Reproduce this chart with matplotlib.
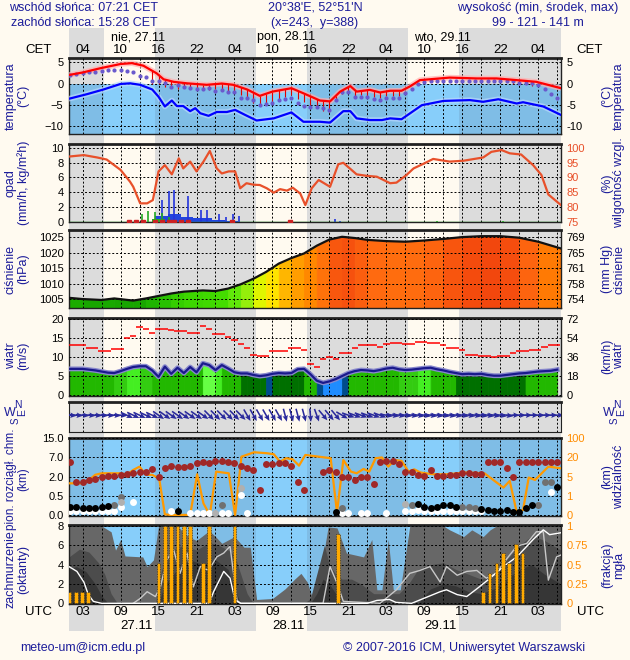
import numpy as np
import matplotlib
matplotlib.use('Agg')
import matplotlib.pyplot as plt
from matplotlib.colors import LinearSegmentedColormap

plt.rcParams['font.family'] = ['Liberation Sans', 'DejaVu Sans']

# time axis in hours since 27.11 00 UTC
X0, X1 = 0.85, 78.6
sunrise = [6.35, 30.35, 54.35]
sunset = [14.47, 38.47, 62.47]
hours = np.arange(1, 79)

# temperature (C)
tmax_t = [0.8, 3, 5.8, 9, 10.8, 12.6, 14.7, 15.8, 17.4, 19.5, 22.6, 25, 26.8, 29, 31, 33, 36, 37.9,
          40.5, 42.1, 43.7, 45.3, 46.3, 48.4, 50, 51.6, 53.4, 54.7, 56.3, 61, 65.3, 68.4, 71.6, 74.7, 78.6]
tmax = [2.0, 2.6, 3.6, 4.6, 4.8, 4.2, 2.4, 1.0, 0.4, 0.05, -0.3, 0.0, -0.3, -1.4, -2.9, -1.9, -1.1, -2.3,
        -4.0, -4.2, -1.9, -0.6, -1.9, -1.5, -2.1, -1.7, -1.7, -0.7, 0.8, 1.4, 1.2, 1.2, 0.8, 0.4, -1.1]
tmin_t = [0.8, 3.7, 6.3, 9, 10.5, 12.1, 14, 15, 16, 17.1, 17.9, 18.9, 20, 20.8, 21.6, 22.9, 24.2, 25.8,
          27.1, 28.7, 30.5, 33.2, 36, 37.9, 40.5, 42.1, 44.2, 45.3, 46.3, 48.4, 50.3, 51.6, 53.4, 56.6,
          60, 64.2, 66.3, 68.7, 71.6, 72.6, 75.8, 78.6]
tmin = [-3.6, -2.5, -1.4, -0.1, 0.05, -0.3, -1.4, -3.1, -5.4, -4.0, -5.3, -5.3, -6.5, -5.8, -7.0, -7.6,
        -6.7, -6.7, -6.2, -7.4, -8.7, -8.2, -6.8, -9.0, -9.0, -9.2, -6.5, -6.5, -8.2, -8.6, -8.6, -8.2,
        -8.4, -5.1, -4.1, -3.9, -4.3, -3.7, -4.7, -4.4, -5.4, -7.4]
tdew = [2.0, 2.2, 2.4, 2.6, 2.7, 2.9, 3.1, 3.2, 3.2, 3.0, 2.6, 1.8, 1.5, 0.7, 0.6, 0.2, -0.9, -0.3,
        -0.7, -1.0, -1.2, -1.4, -1.1, -1.7, -1.5, -1.9, -2.1, -3.5, -3.3, -3.9, -5.1, -4.9, -4.5, -3.9,
        -3.6, -3.3, -4.5, -5.4, -5.6, -5.6, -5.8, -6.2, -3.9, -2.1, -1.9, -3.1, -3.1, -3.2, -3.7, -3.9,
        -3.5, -3.5, -3.5, -2.3, -1.3, -0.2, 0.4, 0.5, 0.5, 0.5, 0.6, 0.5, 0.5, 0.5, 0.5, 0.6, 0.5, 0.6,
        0.5, 0.5, 0.5, 0.2, 0.2, 0.1, -0.3, -1.3, -2.5, -3.5]
spread_t = [14, 15, 16, 17, 18, 19, 20, 21, 22, 23, 24, 25, 26, 27, 28, 29, 30, 31, 32, 33, 34, 35, 36,
            37, 38, 39, 40, 41, 42, 43, 44, 45, 46, 47, 48, 49, 50, 51, 52, 53, 71, 72, 73, 74]
spread_lo = [-0.2, 0.0, -0.8, -1.0, -1.2, -1.0, -1.3, -1.3, -1.4, -1.5, -1.3, -1.6, -2.0, -2.2, -2.8,
             -3.3, -4.5, -5.0, -4.8, -4.3, -3.8, -3.2, -2.6, -3.6, -4.4, -5.0, -5.6, -6.5, -6.6, -4.0,
             -2.5, -2.0, -3.0, -2.8, -3.0, -3.2, -3.3, -3.0, -3.0, -3.0, -0.1, -0.2, -0.2, -0.5]

# precipitation (mm/h) and relative humidity (%)
rh_t = [0.8, 3.2, 5.3, 6.8, 9, 10.5, 11, 12.1, 13.2, 14.1, 15, 16, 17.1, 18.2, 18.9, 20, 21, 22.1, 23.1,
        24.2, 25, 26.1, 27.1, 27.9, 28.9, 30, 31, 32.1, 33.2, 34.2, 35.3, 36.2, 37.4, 38.2, 39.2, 40.3,
        42.1, 43.4, 44.2, 46.3, 47.9, 49.5, 51.6, 52.6, 54.2, 55.3, 56.8, 58.4, 61, 63.2, 66.3, 67.6,
        69.2, 70.5, 72.3, 74.2, 75.5, 76.6, 78.6]
rh = [97, 97.5, 96.7, 96, 92.5, 88.5, 86.8, 81.2, 81.2, 82.3, 92, 94.1, 91, 96.4, 93, 95.3, 92, 95.3,
      98.9, 93, 91.3, 92, 92, 86.3, 88, 87.5, 87.4, 86.3, 84.8, 86, 85.5, 86.5, 84.5, 80.6, 86.3, 89.1,
      86.8, 94.4, 94.9, 91, 90.5, 90.2, 88, 88.2, 90.8, 93, 94.5, 96.2, 95.3, 95.6, 96.7, 98.6, 99.2,
      98.1, 97.7, 94.1, 90.8, 84.2, 80.6]
conv_t = [15.5, 16.6, 17.5, 19.6, 21.7, 22.6, 24.6, 25.6, 26.7, 27.7, 42.9, 43.7]
conv = [3.0, 4.1, 4.3, 3.5, 1.6, 1.6, 1.0, 0.6, 1.0, 0.8, 0.4, 0.15]
strat_t = [15, 16, 17, 18, 19, 20, 21, 22, 23, 24, 25, 26, 27]
strat = [0.75, 0.75, 1.0, 1.0, 0.7, 0.7, 0.45, 0.45, 0.45, 0.2, 0.2, 0.15, 0.15]
rain_t = [12.4, 13.4, 14.5, 15.5, 16.6, 59, 69.5]
rain = [1.0, 1.5, 1.3, 1.2, 0.6, 0.1, 0.1]
snow_t = [10.4, 11.5, 12.5, 14.5, 15.5, 16.6, 17.5, 18.6, 19.6, 26.6, 35.7]

# pressure (hPa)
p_t = [0.85, 3, 6, 8, 11, 13, 15, 17, 19, 22, 24, 26, 28, 30, 32, 34, 36, 38, 40, 42, 44, 46, 48, 51,
       54, 57, 60, 63, 66, 69, 72, 75, 78.6]
p = [1005.4, 1005.0, 1004.7, 1005.2, 1004.5, 1005.2, 1006.0, 1006.8, 1007.4, 1007.8, 1007.6, 1008.4,
     1009.8, 1011.6, 1013.8, 1016.5, 1018.3, 1019.8, 1022.3, 1024.3, 1025.2, 1024.8, 1024.2, 1023.8,
     1023.6, 1024.0, 1024.5, 1025.1, 1025.4, 1025.4, 1024.9, 1023.6, 1021.4]

# wind (m/s), hourly
wind = [6.9, 6.9, 6.9, 6.7, 6.5, 6.2, 5.9, 5.8, 6.3, 6.9, 7.4, 7.6, 7.6, 6.5, 4.8, 7.5, 5.6, 7.2, 5.8,
        7.4, 6.0, 8.4, 7.9, 6.6, 7.9, 7.0, 6.0, 5.7, 5.7, 5.3, 5.0, 5.2, 5.6, 5.8, 5.7, 5.8, 6.8, 6.9,
        5.5, 3.8, 3.2, 3.6, 4.2, 5.0, 5.8, 6.3, 6.6, 6.5, 6.3, 6.6, 7.0, 7.2, 6.8, 6.6, 6.7, 6.9, 7.1,
        7.2, 6.8, 6.5, 6.1, 5.8, 5.5, 5.6, 5.5, 5.6, 5.3, 5.1, 5.1, 5.3, 5.5, 5.7, 5.8, 6.0, 6.2, 6.3,
        6.4, 6.7]
gust = [13.2, 13.2, 13.2, 12.5, 12.5, 11.6, 11.6, 12.2, 12.2, 15.0, 15.7, 17.9, 17.4, 16.3, 17.4, 17.4,
        17.2, 17.0, 17.0, 16.5, 16.5, 18.1, 17.4, 16.1, 16.1, 15.4, 14.4, 13.5, 12.3, 10.7, 10.3, 10.3,
        11.7, 11.7, 11.7, 12.3, 12.3, 12.0, 8.1, 7.4, 9.4, 10.1, 9.5, 11.2, 11.2, 12.3, 13.2, 13.2, 13.2,
        12.6, 13.5, 13.8, 13.8, 13.4, 13.4, 13.9, 13.9, 13.7, 13.7, 13.2, 12.5, 12.5, 11.8, 10.6, 10.6,
        10.4, 10.4, 10.0, 10.3, 10.3, 11.0, 11.5, 11.5, 11.8, 11.8, 12.8, 13.2, 13.2]
wind_class = list('gggggggllbbllggggggggBBbgggddddnddddd' 'ggnuuungggggggglllbbggggddddddddddd' 'ggggg')
wind_dir = [275] * 9 + [295] * 5 + [305] * 8 + [315] * 6 + [330] * 6 + [345] * 4 + [355, 340] + \
           [320] * 3 + [300] + [290] * 6 + [280] * 20 + [270] * 8

# cloud base heights (km) and visibility (km)
high_km = [5.9, 1.55, 1.55, 1.75, 1.85, 2.0, 2.15, 2.15, 2.45, 2.6, 2.85, 3.3, 3.3, 4.0, 2.0, 4.35, 4.85,
           4.6, 4.6, 4.85, 5.5, 5.75, 5.5, 6.1, 6.1, 5.75, 5.5, 4.85, 4.35, 3.75, 0.95, 5.2, 5.2, 5.5, 5.5,
           4.85, 1.55, 0.95, np.nan, np.nan, 3.3, 3.75, 3.15, 2.0, 2.0, 1.75, 2.0, 2.0, 1.4, 5.9, 6.1, 6.1,
           5.2, 3.3, 3.15, 2.45, 2.15, 3.75, 2.15, 2.15, 2.45, 2.45, 2.85, 2.85, 2.6, 2.6, 5.9, 5.9, 5.9,
           4.35, 2.0, 5.9, 5.9, 5.9, 5.9, 5.9, 5.9, 5.9]
low_t = [1, 2, 3, 4, 5, 6, 7, 8, 9, 11, 17, 20, 21, 22, 23, 25, 26, 28, 29, 44, 45, 47, 48, 51, 54, 55,
         56, 57, 58, 59, 60, 61, 62, 63, 64, 65, 66, 77,
         8, 9, 9, 24, 25, 28, 44, 54, 55, 63, 64, 65, 75, 76, 77,
         1, 2, 3, 4, 5, 6, 7, 18, 43, 56, 57, 58, 59, 60, 61, 62, 66, 67, 68, 69, 70, 71, 72, 73, 74, 78]
low_km = [0.1, 0.1, 0.1, 0.1, 0.1, 0.1, 0.1, 0.1, 0.2, 0.33, 0.09, 0.05, 0.05, 0.05, 0.05, 0.05, 0.05,
          0.56, 0.05, 0.05, 0.05, 0.05, 0.05, 0.05, 0.1, 0.1, 0.12, 0.1, 0.1, 0.1, 0.1, 0.1, 0.1, 0.1, 0.1,
          0.1, 0.1, 0.8,
          0.25, 0.48, 0.35, 0.05, 0.26, 1.1, 0.18, 0.28, 0.25, 0.21, 0.21, 0.19, 0.26, 1.6, 1.6,
          0.21, 0.2, 0.18, 0.18, 0.19, 0.21, 0.24, 0.09, 0.07, 0.28, 0.21, 0.19, 0.21, 0.25, 0.26, 0.21,
          0.16, 0.13, 0.1, 0.1, 0.13, 0.07, 0.07, 0.18, 0.25, 1.15]
low_c = ['w'] * 38 + ['g', 'g', 'l', 'l', 'g', 'l', 'g', 'l', 'g', 'g', 'g', 'g', 'g', 'g', 'g'] + ['k'] * 26
vis_t = [0.85, 3, 4, 5, 6, 9, 10, 11, 12, 13, 14, 15.1, 16, 17, 20, 21.1, 22.1, 23.1, 24.1, 26.1, 27.1,
         28.1, 30.1, 32.1, 33.2, 34.2, 35.2, 36.2, 37.2, 38.2, 40.3, 42.2, 43.2, 44.2, 45.4, 46.3, 47.4,
         48.3, 49.3, 50.3, 51.3, 52.3, 53.4, 54.5, 55.4, 56.4, 58.4, 60.5, 63.5, 66.5, 69.5, 70.5, 71.6,
         72.6, 73.5, 74.5, 76.6, 78.6]
vis = [3.6, 3.6, 4.3, 6.4, 7.6, 7.6, 6.4, 10.2, 12.8, 6.4, 6.4, 4.6, 0.03, 0.0, 0.0, 6.8, 0.6, 0.0, 8.9,
       7.6, 0.0, 23.2, 41.6, 37.6, 33.6, 16.7, 19.4, 18.5, 13.6, 30.4, 23.2, 19.4, 0.14, 18.0, 8.9, 7.6,
       11.0, 8.9, 19.4, 20.0, 12.8, 18.0, 17.3, 8.9, 10.7, 8.2, 6.8, 6.8, 8.2, 7.6, 2.7, 4.1, 0.14, 0.26,
       4.8, 4.3, 12.8, 11.5]

# cloud cover (oktas) and fog fraction
cl_total_t = [0.85, 6, 7.5, 8.2, 9, 9.7, 12.5, 13.2, 14.2, 15, 18, 19, 20, 21, 22, 23, 24, 25, 27, 28.5,
              29.5, 30.5, 33, 35, 36.5, 37.5, 38.5, 39.5, 41, 41.8, 43.2, 44.7, 47.4, 48.7, 49.5, 50.3,
              51.3, 52.1, 53.2, 54.7, 60, 61, 63.2, 64.5, 66.3, 67.4, 68.4, 78.6]
cl_total = [8, 8, 7.4, 5.5, 6.6, 4.9, 4.8, 3.8, 4.5, 8, 8, 7.3, 6.8, 6.5, 7.0, 7.5, 6.9, 6.2, 6.9, 5.8,
            5.8, 0.4, 0.5, 1.5, 2.5, 3.1, 2.2, 0.2, 4.8, 7.9, 7.8, 5.2, 4.8, 6.6, 1.4, 1.4, 6.6, 1.4,
            1.4, 8, 8, 7.6, 6.9, 7.6, 6.9, 7.6, 8, 8]
cl_mid_t = [0.85, 2.5, 4, 5.5, 6.5, 7.5, 8.5, 14.5, 15.5, 17, 19, 21, 23, 24.5, 26, 27, 28, 29, 30, 38,
            39, 40, 41.2, 42, 43, 44, 45.5, 47, 49, 53, 54.5, 56, 58, 60, 62, 64, 66, 68, 70, 72, 74, 76,
            78.6]
cl_mid = [4.8, 5.6, 5.3, 4.2, 3.0, 1.0, 0, 0, 3.5, 5.5, 6.0, 5.5, 6.3, 6.0, 5.5, 5.0, 3.0, 1.0, 0, 0,
          0.5, 3.0, 6.0, 4.0, 3.0, 2.5, 2.5, 2.0, 1.0, 1.0, 2.0, 3.5, 4.0, 4.2, 3.5, 3.0, 2.5, 3.0, 4.5,
          6.0, 7.0, 6.5, 5.5]
cl_low_t = [0.85, 2, 3.5, 5, 6, 7, 15, 16, 18, 20, 22, 24, 26, 27, 28, 39, 40, 41, 42, 43, 44, 56, 58,
            60, 62, 64, 66, 68, 70, 72, 74, 76, 78.6]
cl_low = [3.5, 3.8, 3.3, 2.0, 0.8, 0, 0, 2.0, 3.5, 4.5, 4.0, 4.5, 3.5, 1.5, 0, 0, 1.0, 2.5, 2.0, 1.0, 0,
          0, 1.5, 2.0, 1.8, 1.2, 1.0, 1.5, 2.5, 3.5, 4.0, 3.0, 2.0]
fog_t = [0.9, 2, 2.9, 3.9, 15, 16, 17, 18, 19, 20, 22, 23, 27, 43.3, 66.3, 67.3, 68.4, 69.4, 70.4,
         71.5, 72.5]
fog = [0.15, 0.15, 0.15, 0.15, 0.52, 1, 1, 1, 1, 1, 0.52, 1, 1, 0.9, 0.15, 0.39, 0.52, 0.65, 0.52,
       0.77, 0.65]
wl1_t = [0.85, 2.1, 3.2, 3.9, 4.7, 6, 20, 23, 23.7, 25.3, 26.3, 27.1, 28, 48, 49.5, 51.5, 52.5, 55,
         59.5, 60.5, 62.2, 63.7, 65.3, 67.4, 69.5, 71.6, 73.2, 74.2, 75.8, 76.8, 78.6]
wl1 = [3.8, 3.3, 2.2, 0.9, 0.2, 0, 0, 0, 1.2, 3.3, 2.6, 0.3, 0, 0, 0.3, 0.4, 0.1, 0, 1.2, 1.4, 0.9,
       0.7, 1.5, 2.6, 3.8, 4.8, 5.9, 6.6, 7.6, 7.1, 7.3]
wl2_t = [11, 12.1, 13.2, 14.5, 15.3, 16.3, 17.4, 18.4, 19.5, 20.5, 21.6, 22.9, 24.2, 25.3, 26.3, 27.4,
         28, 41, 42.1, 43.2, 44.2, 50, 52.6, 54.7, 56.3, 57.9, 59.5, 60.5, 62.2, 63.7, 65.3, 66.8, 68.4,
         69.9, 71.6, 73.2, 74.7, 75.8, 76.6, 77.9, 78.6]
wl2 = [0, 0.5, 1.2, 0.7, 1.7, 4.5, 5.5, 3.1, 5.2, 1.7, 3.8, 3.4, 4.8, 5.2, 5.9, 0.3, 0, 0, 3.8, 2.1,
       0.2, 0, 1.4, 3.1, 3.4, 3.8, 2.2, 3.8, 2.9, 3.3, 3.4, 2.6, 3.1, 4.5, 5.9, 6.2, 7.4, 7.4, 2.4, 4.8,
       5.0]

W, H = 630, 660
BG = '#fffaf0'
NAVY = '#1c1c9a'
NIGHT = '#dcdcdc'
SKY_DAY = '#87cefa'
SKY_NIGHT = '#7fbde6'
ORANGE = '#ff9900'

nights = [(X0, sunrise[0]), (sunset[0], sunrise[1]), (sunset[1], sunrise[2]), (sunset[2], X1)]
days = list(zip(sunrise, sunset))
grid_x = np.arange(3, 79, 3)

fig = plt.figure(figsize=(W / 100, H / 100), dpi=100)
fig.patch.set_facecolor(BG)


def add_ax(top, bottom, left=69, right=561):
    return fig.add_axes([left / W, 1 - bottom / H, (right - left) / W, (bottom - top) / H])


def ftext(x, y, s, **kw):
    kw.setdefault('color', NAVY)
    kw.setdefault('fontsize', 9)
    kw.setdefault('va', 'center')
    fig.text(x / W, 1 - y / H, s, **kw)


def hx(h):
    return 69 + (h - X0) / (X1 - X0) * 492


def panel(top, bottom, ylim, yticks, ylabels=None):
    ax = add_ax(top, bottom)
    ax.set_facecolor('none')
    ax.set_xlim(X0, X1)
    ax.set_ylim(*ylim)
    ax.set_xticks([])
    ax.set_yticks(yticks)
    if ylabels is not None:
        ax.set_yticklabels(ylabels)
    ax.tick_params(axis='y', length=0, labelsize=8, pad=4)
    for s in ax.spines.values():
        s.set_color('#222222')
        s.set_linewidth(1)
    ax.spines['top'].set_linewidth(2)
    for x in grid_x:
        ax.axvline(x, color='black', lw=0.7, ls=(0, (2, 2)), zorder=4)
    for y in yticks:
        ax.axhline(y, color='black', lw=0.7, ls=(0, (2, 2)), zorder=4)
    return ax


def right_ticks(ax, ticks, labels, color='black'):
    r = ax.twinx()
    r.set_ylim(ax.get_ylim())
    r.set_yticks(ticks)
    r.set_yticklabels(labels)
    r.tick_params(axis='y', length=0, labelsize=8, pad=4, labelcolor=color)
    for s in r.spines.values():
        s.set_visible(False)
    return r


def sky(ax, y0, y1):
    for a, b in nights:
        ax.fill_between([a, b], y0, y1, color=SKY_NIGHT, lw=0, zorder=1)
    for a, b in days:
        ax.fill_between([a, b], y0, y1, color=SKY_DAY, lw=0, zorder=1)


def side_label(y, left, right):
    ftext(17, y, left, rotation=90, ha='center', multialignment='center', linespacing=1.05)
    ftext(613, y, right, rotation=90, ha='center', multialignment='center', linespacing=1.05)


# day / night bands behind everything
bands = add_ax(28, 631)
bands.set_xlim(X0, X1)
bands.axis('off')
for a, b in nights:
    bands.axvspan(a, b, color=NIGHT, lw=0)

# header
ftext(84, 8, 'wschód słońca: 07:21 CET', ha='center')
ftext(84, 23, 'zachód słońca: 15:28 CET', ha='center')
ftext(315, 8, "20°38'E, 52°51'N", ha='center')
ftext(315, 23, '(x=243,  y=388)', ha='center')
ftext(538, 8, 'wysokość (min, środek, max)', ha='center')
ftext(538, 23, '99 - 121 - 141 m', ha='center')
for s, h in [('nie, 27.11', 7.45), ('pon, 28.11', 30.6), ('wto, 29.11', 55.4)]:
    ftext(hx(h), 37, s, color='black', ha='left')
ftext(39, 50, 'CET', color='black', ha='center', fontsize=9.5)
ftext(590, 50, 'CET', color='black', ha='center', fontsize=9.5)
for h in range(3, 79, 6):
    ftext(hx(h), 50, '%02d' % ((h + 1) % 24), color='black', ha='center', fontsize=9.5)
    ftext(hx(h), 612, '%02d' % (h % 24), color='black', ha='center', fontsize=9.5)
ftext(39, 612, 'UTC', color='black', ha='center', fontsize=9.5)
ftext(590, 612, 'UTC', color='black', ha='center', fontsize=9.5)
for s, h in [('27.11', sunset[0]), ('28.11', sunset[1]), ('29.11', sunset[2])]:
    ftext(hx(h) - 2, 626, s, color='black', ha='right', fontsize=9.5)
ftext(20, 648, 'meteo-um@icm.edu.pl', ha='left')
ftext(343, 648, '© 2007-2016 ICM, Uniwersytet Warszawski', ha='left')

# temperature
ax = panel(58.3, 134.3, (-11.95, 5.94), [5, 0, -5, -10])
right_ticks(ax, [5, 0, -5, -10], ['5', '0', '-5', '-10'])
sky(ax, -11.95, 0)
ax.plot(tmax_t, tmax, color='#ffb0b0', lw=4, alpha=0.7, zorder=5, solid_capstyle='butt')
ax.plot(tmin_t, tmin, color='#b8d8ff', lw=4, alpha=0.7, zorder=5, solid_capstyle='butt')
top = np.interp(spread_t, tmax_t, tmax)
ax.vlines(spread_t, spread_lo, top, color='#e00000', lw=0.8, zorder=5)
ax.plot(hours, tdew, 'o', color='#6a5acd', ms=3, mew=0, zorder=6)
ax.plot(tmax_t, tmax, color='#ff0000', lw=1.6, zorder=7)
ax.plot(tmin_t, tmin, color='#0000ff', lw=1.6, zorder=7)
side_label(96, 'temperatura\n(°C)', '(°C)\ntemperatura')

# precipitation and humidity
ax = panel(144, 222, (-0.04, 10.5), [0, 2, 4, 6, 8, 10])
r = ax.twinx()
r.set_ylim(75 - 0.04 * 2.5, 75 + 10.5 * 2.5)
r.set_yticks([75, 80, 85, 90, 95, 100])
r.tick_params(axis='y', length=0, labelsize=8, pad=4, labelcolor='#e8502a')
for s in r.spines.values():
    s.set_visible(False)
r.plot(rh_t, rh, color='#e8502a', lw=1.6, zorder=5)
ax.bar(strat_t, strat, width=1.0, color='#2244dd', zorder=5)
ax.bar([14.5, 15.5], [0.3, 0.3], width=1.0, color='#22aa22', zorder=5)
ax.vlines(conv_t, 0, conv, color='#2233dd', lw=1.2, zorder=6)
ax.vlines(rain_t, 0, rain, color='#22aa22', lw=1.2, zorder=6)
ax.axhline(0, color='#22aa22', lw=1, zorder=6)
ax.plot(snow_t, np.zeros(len(snow_t)), 's', color='#cc2222', ms=2.5, zorder=7)
side_label(183, 'opad\n(mm/h, kg/m²h)', '(%)\nwilgotność wzgl.')

# pressure
ax = panel(230, 308.3, (1002, 1027.4), [1005, 1010, 1015, 1020, 1025])
right_ticks(ax, [1005, 1010, 1015, 1020, 1025], ['754', '758', '761', '765', '769'])
pcmap = LinearSegmentedColormap.from_list('pres', [
    (0.0, '#119900'), (0.09, '#22bb00'), (0.18, '#44dd00'), (0.27, '#77ee11'), (0.36, '#ccee00'),
    (0.45, '#ffff00'), (0.55, '#ffcc00'), (0.64, '#ffaa00'), (0.73, '#ff9000'), (0.82, '#ff8000'),
    (0.91, '#ff6a10'), (1.0, '#ee3a0c')])
pnorm = plt.Normalize(1004, 1026)
for i in range(len(p_t) - 1):
    c = pcmap(pnorm(0.5 * (p[i] + p[i + 1])))
    ax.fill_between(p_t[i:i + 2], 1002, p[i:i + 2], facecolor=c, edgecolor=c, lw=0.6, zorder=1)
ax.plot(p_t, p, color='#111111', lw=1.6, zorder=6)
side_label(269, 'ciśnienie\n(hPa)', '(mm Hg)\nciśnienie')

# wind speed and gusts
ax = panel(317.7, 395.7, (-0.18, 20.42), [0, 5, 10, 15, 20])
right_ticks(ax, [0, 5, 10, 15, 20], ['0', '18', '36', '54', '72'])
wcols = {'g': '#22b800', 'l': '#33cc11', 'b': '#44ee22', 'B': '#66ff44', 'd': '#007000',
         'n': '#004c8c', 'u': '#1e8cff'}
for i in range(len(hours) - 1):
    c = wcols[wind_class[i]]
    ax.fill_between(hours[i:i + 2], 0, wind[i:i + 2], facecolor=c, edgecolor=c, lw=0.6, zorder=1)
c = wcols[wind_class[0]]
ax.fill_between([X0, 1], 0, wind[0], facecolor=c, edgecolor=c, lw=0.6, zorder=1)
ax.plot(hours, wind, color='#8888cc', lw=3.5, zorder=5)
ax.plot(hours, wind, color='#1a1a8c', lw=1.6, zorder=6)
ax.hlines(gust, hours - 0.5, hours + 0.5, color='#ff0000', lw=1.1, zorder=6)
side_label(356, 'wiatr\n(m/s)', '(km/h)\nwiatr')

# wind direction arrows
ax = add_ax(401.7, 431.7)
ax.set_facecolor('none')
ax.set_xlim(X0, X1)
ax.set_ylim(0, 1)
ax.set_xticks([])
ax.set_yticks([])
for s in ax.spines.values():
    s.set_color('#222222')
ax.spines['top'].set_linewidth(2)
for x in grid_x:
    ax.axvline(x, color='black', lw=0.7, ls=(0, (2, 2)), zorder=1)
d = np.radians(wind_dir)
ax.quiver(hours, np.full(len(hours), 0.55), -np.sin(d), -np.cos(d), angles='uv', pivot='middle',
          scale=7.5, scale_units='inches', width=0.0032, headwidth=3.5, headlength=4,
          headaxislength=3.5, color='#2a2a9c', zorder=3)
for wx in (10, 609):
    ftext(wx, 413, 'W', fontsize=9, ha='center')
    ftext(wx + 8, 405, 'N', fontsize=7.5, ha='center')
    ftext(wx + 12, 413, 'E', fontsize=7.5, rotation=90, ha='center')
    ftext(wx + 6, 421, 'S', fontsize=7, rotation=90, ha='center')

# cloud base heights and visibility
km_ticks = [0, 0.5, 2, 7, 15]
vis_ticks = [0, 1, 5, 20, 100]
ax = panel(437.7, 515.7, (-0.04, 4.03), [0, 1, 2, 3, 4], ['0.0', '0.5', '2.0', '7.0', '15.0'])
right_ticks(ax, [0, 1, 2, 3, 4], ['0', '1', '5', '20', '100'], color='#ff8c00')
sky(ax, -0.04, 4.03)
ax.plot(vis_t, np.interp(vis, vis_ticks, range(5)), color=ORANGE, lw=1.6, zorder=5)
ax.plot(hours, np.interp(high_km, km_ticks, range(5)), 'o', color='#a02828', ms=5, mew=0, zorder=6)
dcols = {'w': '#ffffff', 'l': '#b0b0b0', 'g': '#707070', 'k': '#000000'}
for t, k, c in zip(low_t, low_km, low_c):
    ax.plot(t, np.interp(k, km_ticks, range(5)), 'o', color=dcols[c], ms=5, mew=0, zorder=6)
ftext(17, 479, 'pion. rozciągł. chm.\n(km)', rotation=90, ha='center', multialignment='center',
      linespacing=1.05, fontsize=8.5)
ftext(613, 477, '(km)\nwidzialność', rotation=90, ha='center', multialignment='center', linespacing=1.05)

# cloud cover and fog
ax = panel(525, 604, (-0.07, 8.1), [0, 2, 4, 6, 8])
right_ticks(ax, [0, 2, 4, 6, 8], ['0', '0.25', '0.5', '0.75', '1'], color='#ff8c00')
sky(ax, -0.07, 8.1)
ax.fill_between(cl_total_t, 0, cl_total, color='#676767', lw=0, zorder=2)
ax.fill_between(cl_mid_t, 0, cl_mid, color='#4c4c4c', lw=0, zorder=2)
ax.fill_between(cl_low_t, 0, cl_low, color='#363636', lw=0, zorder=2)
ax.plot(wl2_t, wl2, color='#c8c8c8', lw=1, zorder=5)
ax.plot(wl1_t, wl1, color='#ffffff', lw=1, zorder=5)
ax.bar(fog_t, np.array(fog) * 8, width=0.6, color='#ffaa00', edgecolor='#333333', lw=0.6,
       ls=(0, (1, 1)), zorder=6)
ftext(17, 569, 'zachmurzenie\n(oktanty)', rotation=90, ha='center', multialignment='center',
      linespacing=1.05)
ftext(613, 565, '(frakcja)\nmgła', rotation=90, ha='center', multialignment='center', linespacing=1.05)

fig.savefig('out.png', dpi=100, facecolor=BG)
